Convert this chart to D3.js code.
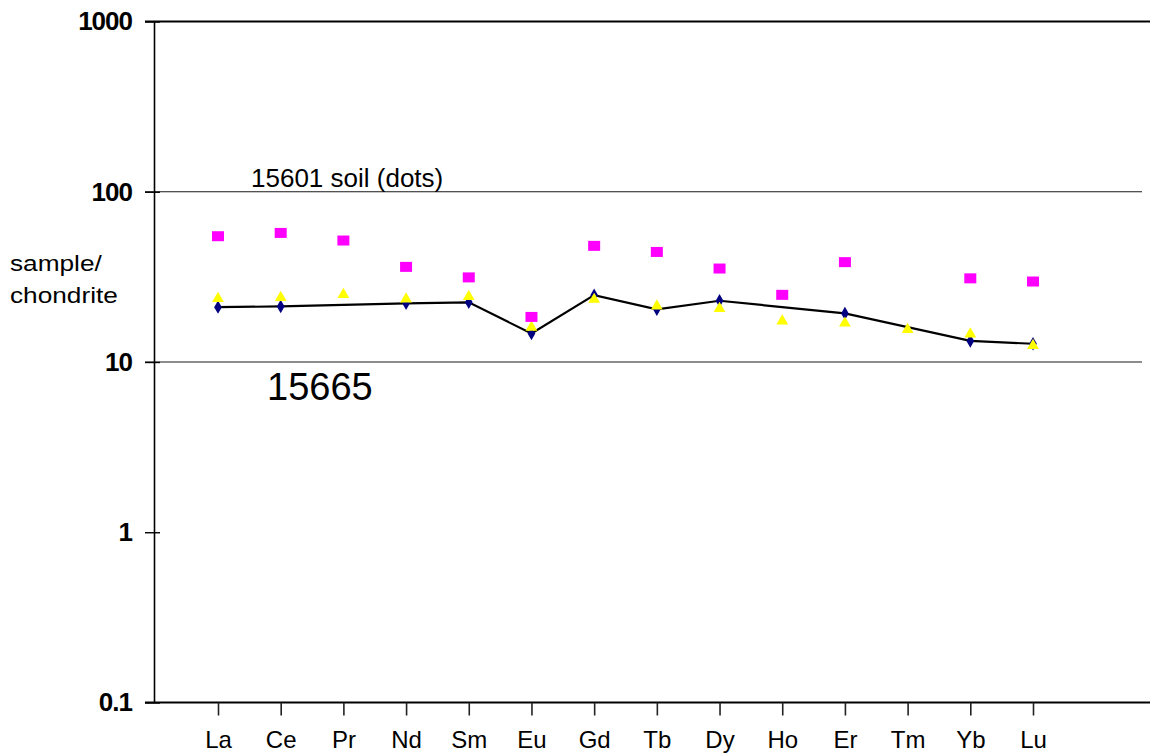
<!DOCTYPE html>
<html>
<head>
<meta charset="utf-8">
<script src="https://cdn.jsdelivr.net/npm/d3@7"></script>
<style>
  body { margin: 0; background: #fff; }
  text { font-family: "Liberation Sans", Arial, sans-serif; fill: #000; }
</style>
</head>
<body>
<div id="chart"></div>
<script>
// REE pattern data, chondrite-normalised
var elements = ["La", "Ce", "Pr", "Nd", "Sm", "Eu", "Gd", "Tb", "Dy", "Ho", "Er", "Tm", "Yb", "Lu"];

// 15665 (black line, navy markers) - null where no analysis
var sample15665 = [21.0, 21.2, null, 22.1, 22.4, 14.7, 24.7, 20.4, 22.9, null, 19.3, null, 13.3, 12.8];

// second sample (yellow triangles)
var triangles = [23.6, 23.9, 24.9, 23.4, 24.2, 16.0, 23.3, 21.3, 20.6, 17.4, 16.9, 15.5, 14.6, 12.5];

// 15601 soil (magenta squares)
var soil15601 = [54.8, 57.3, 51.7, 36.2, 31.4, 18.4, 48.1, 44.3, 35.4, 24.8, 38.6, null, 31.0, 29.7];

var yTicks = [0.1, 1, 10, 100, 1000];
var gridValues = [10, 100];

// Setting svg chart area
var margin = {left: 154, right: 0, top: 21.5, bottom: 52.5};

var width = 1150 - margin.left - margin.right,
    height = 755 - margin.top - margin.bottom;

var svg = d3.select("#chart")
    .append("svg")
        .attr("width", width + margin.left + margin.right)
        .attr("height", height + margin.top + margin.bottom);

var chartGroup = svg.append("g")
        .attr("transform", `translate(${margin.left}, ${margin.top})`);

// Scales
var xScale = d3.scalePoint()
    .domain(elements)
    .range([64, 879]);

var yScale = d3.scaleLog()
    .domain([0.1, 1000])
    .range([height, 0]);

// Gridlines at 10 and 100
chartGroup.selectAll(".grid")
    .data(gridValues)
    .enter()
    .append("line")
        .attr("x1", -9)
        .attr("x2", 988)
        .attr("y1", d => yScale(d))
        .attr("y2", d => yScale(d))
        .attr("stroke", "#1a1a1a")
        .attr("stroke-width", 1.2);

// Top border at 1000 and bottom border at 0.1
chartGroup.selectAll(".border")
    .data([1000, 0.1])
    .enter()
    .append("line")
        .attr("x1", -9)
        .attr("x2", width)
        .attr("y1", d => yScale(d))
        .attr("y2", d => yScale(d))
        .attr("stroke", "#000")
        .attr("stroke-width", 2);

// Y axis
var leftAxis = d3.axisLeft(yScale)
    .tickValues(yTicks)
    .tickFormat(d => d)
    .tickSize(9)
    .tickSizeOuter(0)
    .tickPadding(13);

var yAxis = chartGroup.append("g")
    .call(leftAxis);

yAxis.select(".domain")
    .attr("stroke", "#000")
    .attr("stroke-width", 1.6);

yAxis.selectAll(".tick line")
    .attr("x1", 6)
    .attr("x2", -9)
    .attr("stroke-width", 1.4);

yAxis.selectAll(".tick text")
    .attr("font-family", "Liberation Sans, Arial, sans-serif")
    .attr("font-size", "26px")
    .attr("font-weight", "bold")
    .attr("letter-spacing", "-1px")
    .attr("fill", "#000");

// X axis
var bottomAxis = d3.axisBottom(xScale)
    .tickSize(13)
    .tickSizeOuter(0)
    .tickPadding(15);

var xAxis = chartGroup.append("g")
    .attr("transform", `translate(0, ${height})`)
    .call(bottomAxis);

xAxis.select(".domain").remove();

xAxis.selectAll(".tick line")
    .attr("stroke", "#222")
    .attr("stroke-width", 1.6);

xAxis.selectAll(".tick text")
    .attr("font-family", "Liberation Sans, Arial, sans-serif")
    .attr("font-size", "24px")
    .attr("fill", "#000");

// Build point lists
function points(values) {
    return elements
        .map((e, i) => ({el: e, v: values[i]}))
        .filter(d => d.v !== null);
}

// 15665 line
var line = d3.line()
    .x(d => xScale(d.el))
    .y(d => yScale(d.v));

chartGroup.append("path")
    .datum(points(sample15665))
    .attr("d", line)
    .attr("fill", "none")
    .attr("stroke", "#000")
    .attr("stroke-width", 2.2);

chartGroup.selectAll(".navy")
    .data(points(sample15665))
    .enter()
    .append("path")
        .attr("d", d3.symbol().type(d3.symbolDiamond).size(52))
        .attr("transform", d => `translate(${xScale(d.el)},${yScale(d.v)})`)
        .attr("fill", "#000080");

// Yellow triangles
chartGroup.selectAll(".tri")
    .data(points(triangles))
    .enter()
    .append("path")
        .attr("d", d3.symbol().type(d3.symbolTriangle).size(60))
        .attr("transform", d => `translate(${xScale(d.el)},${yScale(d.v)})`)
        .attr("fill", "#ffff00");

// Magenta squares (soil)
chartGroup.selectAll(".sq")
    .data(points(soil15601))
    .enter()
    .append("rect")
        .attr("x", d => xScale(d.el) - 6)
        .attr("y", d => yScale(d.v) - 5)
        .attr("width", 12)
        .attr("height", 10)
        .attr("fill", "#ff00ff");

// Annotations
svg.append("text")
    .attr("x", 251)
    .attr("y", 186.5)
    .attr("font-size", "26px")
    .text("15601 soil (dots)");

svg.append("text")
    .attr("x", 267)
    .attr("y", 400)
    .attr("font-size", "38px")
    .text("15665");

// Y axis title (stretched like the original)
var yTitle = svg.append("g")
    .attr("transform", "translate(10, 0) scale(1.22, 1)");

yTitle.append("text")
    .attr("x", 0)
    .attr("y", 271.5)
    .attr("font-size", "21.5px")
    .text("sample/");

yTitle.append("text")
    .attr("x", 0)
    .attr("y", 303)
    .attr("font-size", "21.5px")
    .text("chondrite");
</script>
</body>
</html>
